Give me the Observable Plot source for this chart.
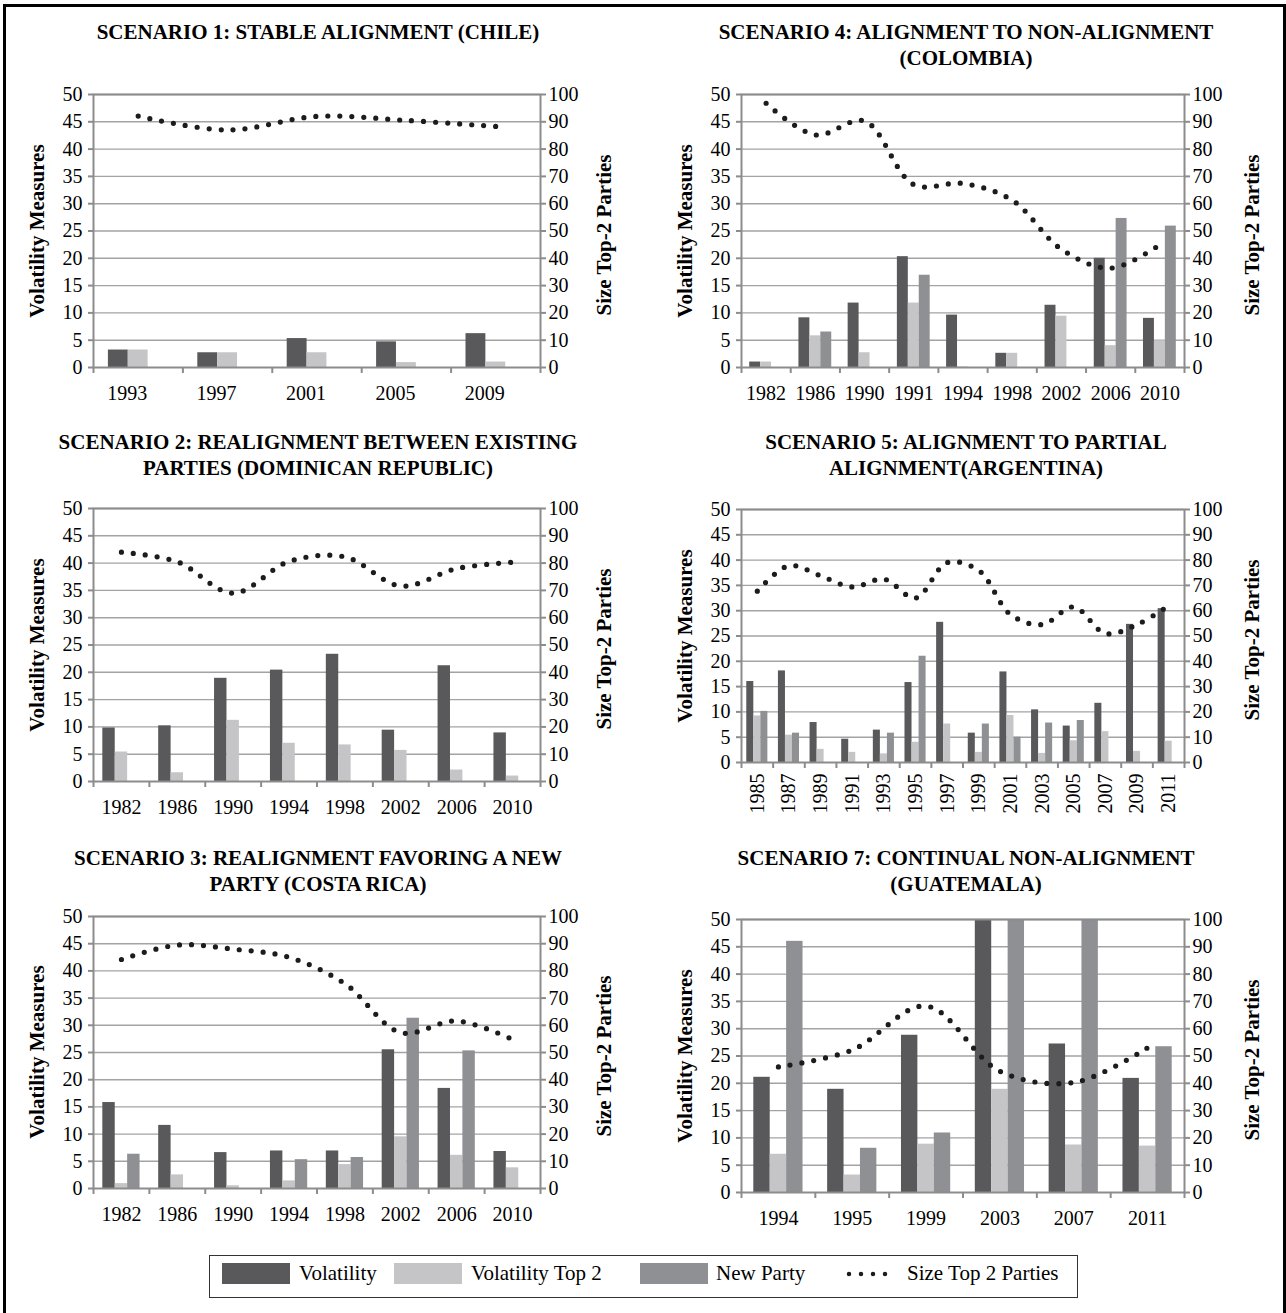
<!DOCTYPE html>
<html>
<head>
<meta charset="utf-8">
<script src="https://cdn.jsdelivr.net/npm/d3@7"></script>
<script src="https://cdn.jsdelivr.net/npm/@observablehq/plot@0.6"></script>
<style>
html, body { margin: 0; padding: 0; background: #fff; overflow: hidden; }
#root { position: relative; width: 1286px; height: 1313px; font-family: "Liberation Serif", "Times New Roman", serif; color: #000; overflow: hidden; }
.frame { position: absolute; left: 3px; top: 4px; width: 1283px; height: 1340px; border: 3px solid #000; box-sizing: border-box; }
.title { position: absolute; width: 640px; margin-left: -320px; font-weight: bold; font-size: 21px; line-height: 25.5px; text-align: center; white-space: nowrap; }
.ytitle { position: absolute; font-weight: bold; font-size: 21px; white-space: nowrap; transform: translate(-50%, -50%) rotate(-90deg); }
.panel { position: absolute; }
.legend { position: absolute; left: 209px; top: 1255px; width: 869px; height: 43px; border: 1.5px solid #333; box-sizing: border-box; font-size: 21px; }
.legend .sw { position: absolute; top: 7px; width: 68px; height: 21px; }
.legend .lt { position: absolute; top: 4px; line-height: 26px; white-space: nowrap; }
.legend svg { position: absolute; top: 13px; }
</style>
</head>
<body>
<div id="root">
  <div class="frame"></div>
</div>
<script>
// ---------------- data ----------------
const yTicks = d3.range(0, 51, 5);

// Scenario 1: Chile
const chileYears = ["1993", "1997", "2001", "2005", "2009"];
const chileVolatility = [3.2, 2.7, 5.3, 4.7, 6.2];
const chileVolatilityTop2 = [3.2, 2.7, 2.7, 0.9, 1.0];
const chileNewParty = [0, 0, 0, 0, 0];
const chileSizeTop2 = [92.1, 87.0, 92.0, 90.5, 88.3];

// Scenario 4: Colombia
const colombiaYears = ["1982", "1986", "1990", "1991", "1994", "1998", "2002", "2006", "2010"];
const colombiaVolatility = [1.0, 9.1, 11.8, 20.3, 9.6, 2.6, 11.4, 20.0, 9.0];
const colombiaVolatilityTop2 = [1.0, 5.8, 2.7, 11.8, 0.1, 2.6, 9.4, 4.0, 4.9];
const colombiaNewParty = [0, 6.5, 0, 16.9, 0, 0, 0, 27.3, 25.9];
const colombiaSizeTop2 = [96.8, 85.2, 90.3, 67.0, 67.4, 61.3, 43.3, 36.4, 45.0];

// Scenario 2: Dominican Republic
const dominicanYears = ["1982", "1986", "1990", "1994", "1998", "2002", "2006", "2010"];
const dominicanVolatility = [9.8, 10.2, 18.9, 20.4, 23.3, 9.4, 21.2, 8.9];
const dominicanVolatilityTop2 = [5.4, 1.6, 11.2, 7.0, 6.7, 5.7, 2.1, 1.0];
const dominicanNewParty = [0, 0, 0, 0, 0, 0, 0, 0];
const dominicanSizeTop2 = [84.0, 80.5, 69.0, 80.6, 82.3, 71.6, 78.0, 80.3];

// Scenario 5: Argentina
const argentinaYears = ["1985", "1987", "1989", "1991", "1993", "1995", "1997", "1999", "2001", "2003", "2005", "2007", "2009", "2011"];
const argentinaVolatility = [16.0, 18.1, 7.9, 4.6, 6.4, 15.8, 27.7, 5.8, 17.9, 10.4, 7.2, 11.7, 27.3, 30.4];
const argentinaVolatilityTop2 = [9.2, 5.4, 2.6, 2.0, 1.7, 4.0, 7.6, 2.0, 9.3, 1.8, 4.3, 6.1, 2.2, 4.2];
const argentinaNewParty = [10.1, 5.8, 0, 0, 5.8, 21.0, 0, 7.6, 5.0, 7.8, 8.3, 0, 0, 0];
const argentinaSizeTop2 = [67.7, 77.8, 73.8, 69.4, 72.5, 65.0, 79.0, 75.9, 58.5, 54.5, 61.5, 51.0, 54.5, 62.0];

// Scenario 3: Costa Rica
const costaRicaYears = ["1982", "1986", "1990", "1994", "1998", "2002", "2006", "2010"];
const costaRicaVolatility = [15.8, 11.6, 6.6, 6.9, 6.9, 25.5, 18.4, 6.8];
const costaRicaVolatilityTop2 = [0.9, 2.5, 0.5, 1.4, 4.4, 9.5, 6.1, 3.8];
const costaRicaNewParty = [6.3, 0, 0, 5.3, 5.7, 31.3, 25.3, 0];
const costaRicaSizeTop2 = [84.2, 89.5, 88.0, 85.0, 75.3, 57.3, 61.6, 54.8];

// Scenario 7: Guatemala (bars reaching 50 are cut off at the top of the axis)
const guatemalaYears = ["1994", "1995", "1999", "2003", "2007", "2011"];
const guatemalaVolatility = [21.1, 18.9, 28.8, 50, 27.2, 20.9];
const guatemalaVolatilityTop2 = [7.0, 3.2, 8.85, 18.9, 8.7, 8.5];
const guatemalaNewParty = [46.0, 8.1, 10.9, 50, 50, 26.7];
const guatemalaSizeTop2 = [46.0, 52.2, 68.3, 44.4, 40.3, 53.0];

const seriesNames = ["Volatility", "Volatility Top 2", "New Party", "Size Top 2 Parties"];

// ---------------- styles ----------------
const C = {
  dark: "#59595b",
  light: "#c5c5c7",
  mid: "#8f9093",
  dot: "#1c1c1c",
  grid: "#a3a3a3",
  axis: "#8c8c8c"
};
const FONT = '"Liberation Serif", "Times New Roman", serif';

const root = document.getElementById("root");

function addDiv(cls, html, style) {
  const d = document.createElement("div");
  d.className = cls;
  d.innerHTML = html;
  Object.assign(d.style, style);
  root.appendChild(d);
  return d;
}

function makePanel(cfg) {
  const n = cfg.years.length;
  const mt = 14;
  const innerW = cfg.width - cfg.ml - cfg.mr;
  const bw = innerW / n;
  const slot = bw / 4.5;
  const plotH = cfg.bottom - cfg.top;
  const height = plotH + mt + cfg.mb;
  const rows = cfg.years.map((year, i) => ({
    year,
    vol: cfg.vol[i],
    top2: cfg.top2[i],
    newp: cfg.newp[i],
    size: cfg.size[i]
  }));
  const series = [["vol", C.dark], ["top2", C.light], ["newp", C.mid]];
  const svg = Plot.plot({
    width: cfg.width,
    height,
    marginLeft: cfg.ml,
    marginRight: cfg.mr,
    marginTop: mt,
    marginBottom: cfg.mb,
    x: {type: "band", domain: cfg.years, padding: 0, round: false},
    y: {domain: [0, 50]},
    style: {fontFamily: FONT, fontSize: "20px", color: "#000", background: "transparent", overflow: "visible"},
    marks: [
      Plot.ruleY(yTicks.slice(1), {stroke: C.grid, strokeWidth: 1.4}),
      ...series.map(([key, fill], k) =>
        Plot.barY(rows, {x: "year", y: key, fill, insetLeft: slot * (0.75 + k), insetRight: slot * (2.75 - k), clip: true})
      ),
      Plot.frame({stroke: C.axis, strokeWidth: 2}),
      Plot.axisY({anchor: "left", ticks: yTicks, tickSize: 5, tickPadding: 6, stroke: C.axis, strokeWidth: 2, label: null}),
      Plot.axisY({anchor: "right", ticks: yTicks, tickSize: 5, tickPadding: 3, tickFormat: d => String(d * 2), stroke: C.axis, strokeWidth: 2, label: null}),
      Plot.axisX({ticks: cfg.years, tickSize: 6, tickFormat: () => "", dx: -bw / 2, stroke: C.axis, strokeWidth: 2, label: null}),
      Plot.axisX({ticks: [cfg.years[n - 1]], tickSize: 6, tickFormat: () => "", dx: bw / 2, stroke: C.axis, strokeWidth: 2, label: null}),
      Plot.axisX(cfg.rotate
        ? {tickSize: 0, tickPadding: 11, tickRotate: -90, label: null}
        : {tickSize: 0, tickPadding: 18, dx: cfg.labelDx || 0, label: null}),
      Plot.line(rows, {x: "year", y: d => d.size / 2, curve: "catmull-rom", stroke: C.dot, strokeWidth: 5.2, strokeLinecap: "round", strokeDasharray: "0 12"})
    ]
  });
  svg.classList.add("panel");
  svg.style.left = cfg.left + "px";
  svg.style.top = (cfg.top - mt) + "px";
  root.appendChild(svg);

  // titles
  addDiv("title", cfg.title, {left: cfg.titleX + "px", top: cfg.titleY + "px"});
  const midY = (cfg.top + cfg.bottom) / 2;
  addDiv("ytitle", "Volatility Measures", {left: cfg.leftTitleX + "px", top: midY + "px"});
  addDiv("ytitle", "Size Top-2 Parties", {left: cfg.rightTitleX + "px", top: (midY + 4) + "px"});
}

const leftCol = {left: 0, width: 640, ml: 93, mr: 100, titleX: 318, leftTitleX: 37, rightTitleX: 604};
const rightCol = {left: 643, width: 643, ml: 98, mr: 102, titleX: 966, leftTitleX: 685, rightTitleX: 1252};

makePanel({...leftCol, top: 94, bottom: 367, mb: 50, labelDx: -11,
  title: "SCENARIO 1: STABLE ALIGNMENT (CHILE)", titleY: 20,
  years: chileYears, vol: chileVolatility, top2: chileVolatilityTop2, newp: chileNewParty, size: chileSizeTop2});

makePanel({...rightCol, top: 94, bottom: 367, mb: 50,
  title: "SCENARIO 4: ALIGNMENT TO NON-ALIGNMENT<br>(COLOMBIA)", titleY: 20,
  years: colombiaYears, vol: colombiaVolatility, top2: colombiaVolatilityTop2, newp: colombiaNewParty, size: colombiaSizeTop2});

makePanel({...leftCol, top: 508, bottom: 781, mb: 50,
  title: "SCENARIO 2: REALIGNMENT BETWEEN EXISTING<br>PARTIES (DOMINICAN REPUBLIC)", titleY: 430,
  years: dominicanYears, vol: dominicanVolatility, top2: dominicanVolatilityTop2, newp: dominicanNewParty, size: dominicanSizeTop2});

makePanel({...rightCol, top: 509, bottom: 762, mb: 68, rotate: true,
  title: "SCENARIO 5: ALIGNMENT TO PARTIAL<br>ALIGNMENT(ARGENTINA)", titleY: 430,
  years: argentinaYears, vol: argentinaVolatility, top2: argentinaVolatilityTop2, newp: argentinaNewParty, size: argentinaSizeTop2});

makePanel({...leftCol, top: 916, bottom: 1188, mb: 50,
  title: "SCENARIO 3: REALIGNMENT FAVORING A NEW<br>PARTY (COSTA RICA)", titleY: 846,
  years: costaRicaYears, vol: costaRicaVolatility, top2: costaRicaVolatilityTop2, newp: costaRicaNewParty, size: costaRicaSizeTop2});

makePanel({...rightCol, top: 919, bottom: 1192, mb: 50,
  title: "SCENARIO 7: CONTINUAL NON-ALIGNMENT<br>(GUATEMALA)", titleY: 846,
  years: guatemalaYears, vol: guatemalaVolatility, top2: guatemalaVolatilityTop2, newp: guatemalaNewParty, size: guatemalaSizeTop2});

// ---------------- legend ----------------
const legend = document.createElement("div");
legend.className = "legend";
legend.innerHTML = `
  <div class="sw" style="left:12px;background:${C.dark}"></div>
  <div class="lt" style="left:89px">${seriesNames[0]}</div>
  <div class="sw" style="left:184px;background:${C.light}"></div>
  <div class="lt" style="left:261px">${seriesNames[1]}</div>
  <div class="sw" style="left:430px;background:${C.mid}"></div>
  <div class="lt" style="left:506px">${seriesNames[2]}</div>
  <svg width="54" height="10" style="left:636px"><line x1="3" y1="5" x2="51" y2="5" stroke="${C.dot}" stroke-width="4.5" stroke-linecap="round" stroke-dasharray="0 12"/></svg>
  <div class="lt" style="left:697px">${seriesNames[3]}</div>
`;
root.appendChild(legend);
</script>
</body>
</html>
